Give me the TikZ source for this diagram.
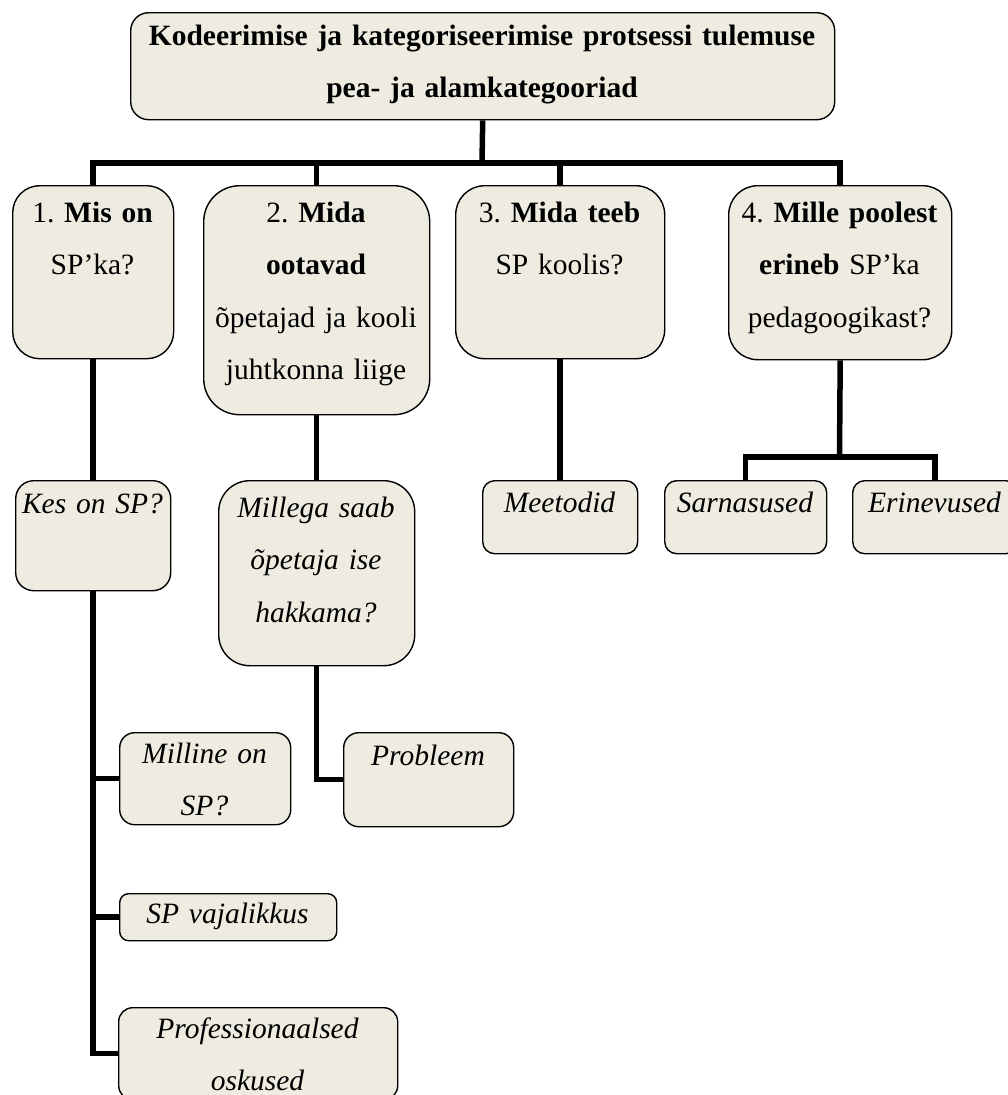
\documentclass[tikz,border=0pt]{standalone}
\usepackage{fontspec}
\setmainfont{Liberation Serif}
\definecolor{boxfill}{HTML}{EEECE1}
\frenchspacing
\begin{document}
\begin{tikzpicture}[x=1pt,y=-1pt,
  box/.style={draw=black, line width=1.4pt, fill=boxfill, inner sep=0pt, anchor=north west},
  txt/.style={anchor=base, align=center, inner sep=0pt, text width=#1, font=\fontsize{29.5}{52.5}\selectfont\frenchspacing},
  txt/.default=300pt,
  conn/.style={line width=5.5pt, line join=miter, line cap=butt},
]
\useasboundingbox (0,0) rectangle (1008,1095);
\clip (0,0) rectangle (1008,1095);
\fill[white] (0,0) rectangle (1008,1095);

% boxes
\node[box, minimum width=704pt, minimum height=107pt, rounded corners=18pt] (top) at (130,12) {};
\node[box, minimum width=161pt, minimum height=173pt, rounded corners=27pt] (b1) at (12,185) {};
\node[box, minimum width=226pt, minimum height=229pt, rounded corners=36pt] (b2) at (203,185) {};
\node[box, minimum width=209pt, minimum height=173pt, rounded corners=29pt] (b3) at (455,185) {};
\node[box, minimum width=223pt, minimum height=174pt, rounded corners=29pt] (b4) at (728,185) {};
\node[box, minimum width=155pt, minimum height=110pt, rounded corners=18pt] (kes) at (15,480) {};
\node[box, minimum width=196pt, minimum height=185pt, rounded corners=31pt] (mil) at (218,480) {};
\node[box, minimum width=155pt, minimum height=73pt, rounded corners=12pt] (meet) at (482,480) {};
\node[box, minimum width=162pt, minimum height=73pt, rounded corners=12pt] (sarn) at (664,480) {};
\node[box, minimum width=165pt, minimum height=73pt, rounded corners=12pt] (erin) at (852,480) {};
\node[box, minimum width=171pt, minimum height=92pt, rounded corners=15pt] (milline) at (119,732) {};
\node[box, minimum width=170pt, minimum height=94pt, rounded corners=15pt] (prob) at (343,732) {};
\node[box, minimum width=217pt, minimum height=47pt, rounded corners=9pt] (vaj) at (119,893) {};
\node[box, minimum width=279pt, minimum height=92pt, rounded corners=14pt] (prof) at (118,1007) {};

% texts
\node[txt=700pt] (ttop) at (482,45) {\textbf{Kodeerimise ja kategoriseerimise protsessi tulemuse}\\\textbf{pea- ja alamkategooriad}};
\node[txt] (t1) at (92.5,222) {1. \textbf{Mis on}\\SP’ka?};
\node[txt] (t2) at (316,222) {2. \textbf{Mida}\\\textbf{ootavad}\\õpetajad ja kooli\\juhtkonna liige};
\node[txt] (t3) at (559.5,222) {3. \textbf{Mida teeb}\\SP koolis?};
\node[txt] (t4) at (839.5,222) {4. \textbf{Mille poolest}\\\textbf{erineb} SP’ka\\pedagoogikast?};
\node[txt] (tkes) at (92.5,513) {\itshape Kes on SP?};
\node[txt] (tmil) at (316,517) {\itshape Millega saab\\õpetaja ise\\hakkama?};
\node[txt] (tmeet) at (559.5,512) {\itshape Meetodid};
\node[txt] (tsarn) at (745,512) {\itshape Sarnasused};
\node[txt] (terin) at (934.5,512) {\itshape Erinevused};
\node[txt] (tmilline) at (204.5,763) {\itshape Milline on\\SP?};
\node[txt] (tprob) at (428,765) {\itshape Probleem};
\node[txt] (tvaj) at (227.5,923) {\itshape SP vajalikkus};
\node[txt] (tprof) at (257.5,1038) {\itshape Professionaalsed\\oskused};

% connectors
\coordinate (bus) at (482,163);
\coordinate (bus4) at (839.5,457);
\draw[conn] (top.south) -- (bus);
\draw[conn] (bus) -| (b1.north);
\draw[conn] (bus) -| (b2.north);
\draw[conn] (bus) -| (b3.north);
\draw[conn] (bus) -| (b4.north);
\draw[conn] (b1.south) -- (kes.north);
\draw[conn] (b2.south) -- (mil.north);
\draw[conn] (b3.south) -- (meet.north);
\draw[conn] (b4.south) -- (bus4);
\draw[conn] (bus4) -| (sarn.north);
\draw[conn] (bus4) -| (erin.north);
\draw[conn] (mil.south) |- (prob.west);
\draw[conn] (kes.south) |- (milline.west);
\draw[conn] (kes.south) |- (vaj.west);
\draw[conn] (kes.south) |- (prof.west);
\end{tikzpicture}
\end{document}
